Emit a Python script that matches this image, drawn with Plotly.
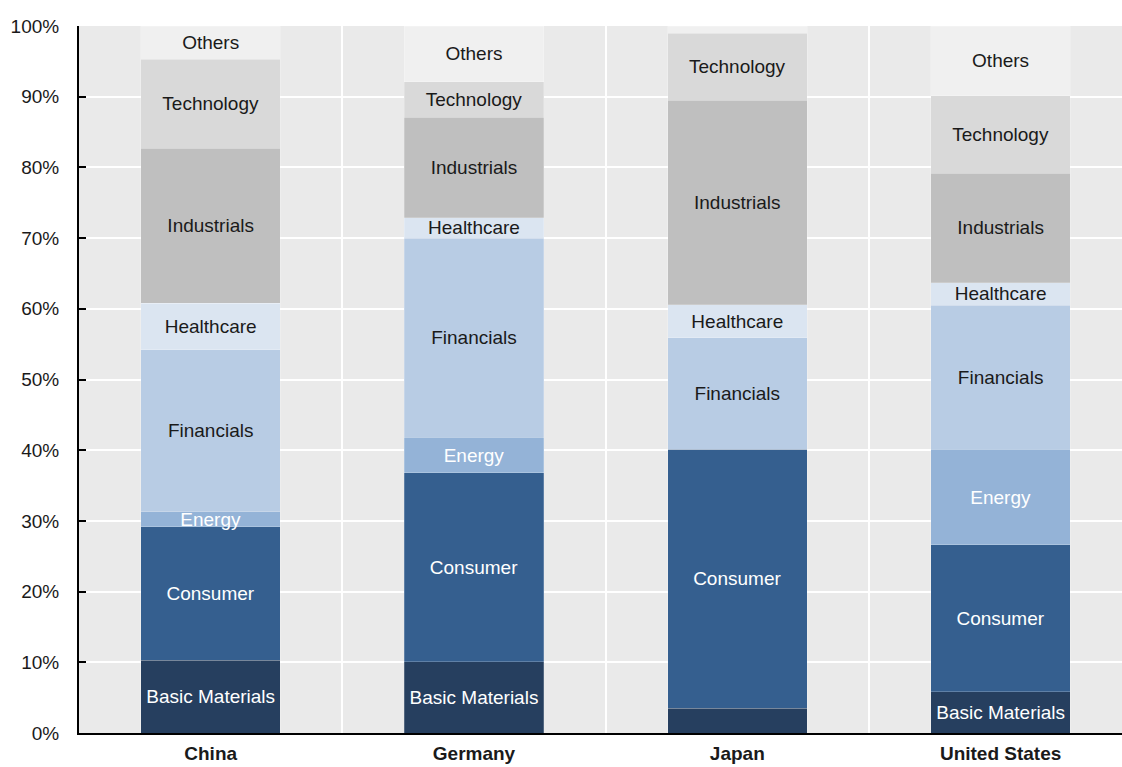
import plotly.graph_objects as go

countries = ["China", "Germany", "Japan", "United States"]

sectors = ["Basic Materials", "Consumer", "Energy", "Financials",
           "Healthcare", "Industrials", "Technology", "Others"]

basic_materials = [10.3, 10.1, 3.5, 5.8]
consumer = [18.9, 26.7, 36.6, 20.8]
energy = [2.1, 5.0, 0.0, 13.5]
financials = [22.9, 28.2, 15.8, 20.4]
healthcare = [6.6, 2.9, 4.7, 3.2]
industrials = [21.9, 14.2, 28.9, 15.5]
technology = [12.6, 5.0, 9.5, 10.9]
others = [4.7, 7.9, 1.0, 9.9]

# segments left without a label in the original
hidden_labels = [("Basic Materials", "Japan"), ("Others", "Japan"), ("Energy", "Japan")]

colors = ["#263F5F", "#355F8F", "#94B3D7", "#B8CCE4",
          "#DBE5F1", "#BFBFBF", "#D9D9D9", "#F0F0F0"]
text_colors = ["white", "white", "white", "#1a1a1a",
               "#1a1a1a", "#1a1a1a", "#1a1a1a", "#1a1a1a"]

values = [basic_materials, consumer, energy, financials,
          healthcare, industrials, technology, others]

FONT = "Liberation Sans Narrow, Arial Narrow, Liberation Sans, Arial, sans-serif"

fig = go.Figure()
for name, vals, col, tcol in zip(sectors, values, colors, text_colors):
    labels = ["" if (name, c) in hidden_labels else name for c in countries]
    fig.add_trace(go.Bar(
        x=countries, y=vals, name=name,
        marker=dict(color=col, line=dict(width=0.6, color="rgba(255,255,255,0.35)")),
        text=labels, textposition="inside", insidetextanchor="middle",
        constraintext="none", textangle=0,
        textfont=dict(color=tcol, size=19, family=FONT),
        hoverinfo="x+y+name",
    ))

# invisible trace carrying the category separators on a numeric axis
fig.add_trace(go.Scatter(x=[-0.5, 3.5], y=[0, 0], xaxis="x2", mode="markers",
                         marker=dict(opacity=0), showlegend=False, hoverinfo="skip"))

# the original plot area runs a little past the right edge of the picture
x_range = [-0.5, 3.461]

fig.update_layout(
    barmode="stack",
    bargap=0.47,
    width=1122, height=765,
    margin=dict(l=79, r=0, t=26, b=32),
    paper_bgcolor="white",
    plot_bgcolor="#EAEAEA",
    showlegend=False,
    font=dict(family=FONT, size=19, color="#1a1a1a"),
    uniformtext=dict(minsize=19, mode="show"),
    xaxis=dict(
        type="category", range=x_range,
        showgrid=False, ticks="",
        showline=True, linecolor="black", linewidth=2,
        tickfont=dict(family=FONT, size=19, color="#1a1a1a", weight="bold"),
        ticklabelstandoff=2,
    ),
    xaxis2=dict(
        overlaying="x", range=x_range,
        tickvals=[0.5, 1.5, 2.5], showticklabels=False,
        showgrid=True, gridcolor="white", gridwidth=2,
        zeroline=False, showline=False, ticks="",
    ),
    yaxis=dict(
        range=[0, 100], dtick=10, ticksuffix="%",
        showgrid=True, gridcolor="white", gridwidth=2,
        zeroline=False,
        showline=True, linecolor="black", linewidth=2,
        ticks="inside", ticklen=7, tickcolor="black", tickwidth=2,
        tickfont=dict(family=FONT, size=19, color="#1a1a1a"),
        ticklabelstandoff=14,
    ),
)

# drop the browser's default body margin so the figure sits at the page corner
fig.write_html("out.html", config={"displayModeBar": False},
               post_script="document.body.style.margin='0';document.body.style.overflow='hidden';")
